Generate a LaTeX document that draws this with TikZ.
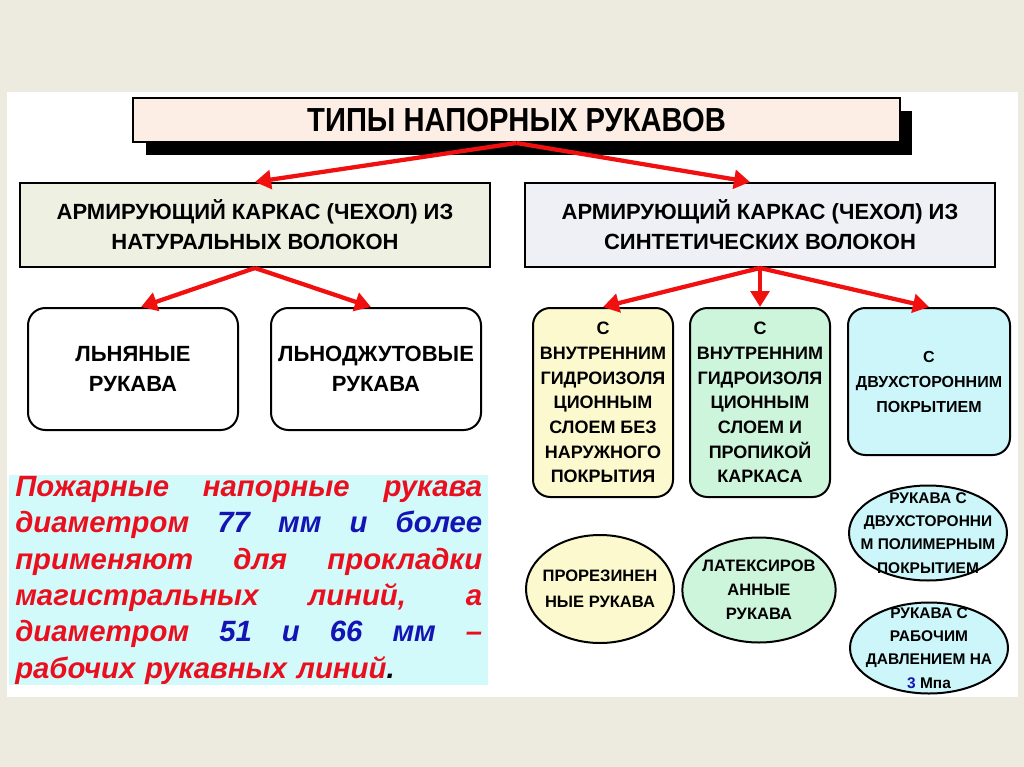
\documentclass[tikz,border=0pt]{standalone}
\usepackage{fontspec}
\setmainfont{Liberation Sans}
\usetikzlibrary{arrows.meta,shapes.geometric,calc}
\definecolor{bgc}{HTML}{EDEBDF}
\definecolor{titlef}{HTML}{FCEEE5}
\definecolor{lboxf}{HTML}{EEF0E1}
\definecolor{rboxf}{HTML}{EEF0F5}
\definecolor{yelf}{HTML}{FDF9CE}
\definecolor{grnf}{HTML}{CCF5DC}
\definecolor{cyaf}{HTML}{CCF6F9}
\definecolor{txtf}{HTML}{D2FAFA}
\definecolor{arrred}{HTML}{F01010}
\definecolor{txtred}{HTML}{EA0F1E}
\definecolor{txtblue}{HTML}{1414B4}
\newcommand{\fsz}[2]{\fontsize{#1}{#2}\selectfont\bfseries}
\newcommand{\bl}[1]{\textcolor{txtblue}{#1}}
\newcommand{\jl}[1]{\makebox[350.25pt][s]{\spaceskip=.28em plus 1fil\relax\xspaceskip=\spaceskip #1}}
\begin{document}
\begin{tikzpicture}[x=0.75pt,y=-0.75pt,
 box/.style={draw=black,line width=1.5pt,inner sep=0pt,align=center},
 rbox/.style={box,rounded corners=13pt},
 oval/.style={ellipse,draw=black,line width=1.5pt,inner sep=0pt},
 arr/.style={draw=arrred,line width=3.2pt,-{Triangle[length=12pt,width=14pt]}}]

\useasboundingbox (0,0) rectangle (1024,767);
\fill[bgc] (0,0) rectangle (1024,767);
\fill[white] (7,92) rectangle (1018,697);

% title with shadow
\fill[black] (146,111) rectangle (912,155);
\node[box,fill=titlef,minimum width=575.25pt,minimum height=33pt] (title) at (516.5,120)
  {\scalebox{0.875}[1]{\fsz{25}{30}ТИПЫ НАПОРНЫХ РУКАВОВ}};

% second level
\node[box,fill=lboxf,minimum width=352.5pt,minimum height=63pt,font=\fsz{16.5}{22.5}] (nat) at (255,225)
  {АРМИРУЮЩИЙ КАРКАС (ЧЕХОЛ) ИЗ\\НАТУРАЛЬНЫХ ВОЛОКОН};
\node[box,fill=rboxf,minimum width=352.5pt,minimum height=63pt,font=\fsz{16.5}{22.5}] (syn) at (760,225)
  {АРМИРУЮЩИЙ КАРКАС (ЧЕХОЛ) ИЗ\\СИНТЕТИЧЕСКИХ ВОЛОКОН};

% natural fibre children
\node[rbox,fill=white,minimum width=157.5pt,minimum height=91.5pt,font=\fsz{16.5}{22.5}] (flax) at (133,369)
  {ЛЬНЯНЫЕ\\РУКАВА};
\node[rbox,fill=white,minimum width=157.5pt,minimum height=91.5pt,font=\fsz{16.5}{22.5}] (jute) at (376,369)
  {ЛЬНОДЖУТОВЫЕ\\РУКАВА};

% synthetic fibre children
\node[rbox,fill=yelf,minimum width=105pt,minimum height=141.75pt,font=\fsz{13.5}{18.5}] (inner) at (603,402.5)
  {С\\ВНУТРЕННИМ\\ГИДРОИЗОЛЯ\\ЦИОННЫМ\\СЛОЕМ БЕЗ\\НАРУЖНОГО\\ПОКРЫТИЯ};
\node[rbox,fill=grnf,minimum width=105pt,minimum height=141.75pt,font=\fsz{13.5}{18.5}] (prop) at (760,402.5)
  {С\\ВНУТРЕННИМ\\ГИДРОИЗОЛЯ\\ЦИОННЫМ\\СЛОЕМ И\\ПРОПИКОЙ\\КАРКАСА};
\node[rbox,fill=cyaf,minimum width=121.5pt,minimum height=110.25pt,font=\fsz{12}{18.75}] (both) at (929,381.5)
  {С\\ДВУХСТОРОННИМ\\ПОКРЫТИЕМ};

% ellipses
\node[oval,fill=yelf,minimum width=111pt,minimum height=81pt,
  label={[font=\fsz{12.4}{19.5},align=center]center:{ПРОРЕЗИНЕН\\НЫЕ РУКАВА}}] (rub) at (600,589) {};
\node[oval,fill=grnf,minimum width=115pt,minimum height=78.75pt,
  label={[font=\fsz{12.4}{18},align=center]center:{ЛАТЕКСИРОВ\\АННЫЕ\\РУКАВА}}] (lat) at (759,590) {};
\node[oval,fill=cyaf,minimum width=118.5pt,minimum height=71.25pt,
  label={[font=\fsz{11.6}{17.5},align=center]center:{РУКАВА С\\ДВУХСТОРОННИ\\М ПОЛИМЕРНЫМ\\ПОКРЫТИЕМ}}] (poly) at (928,533) {};
\node[oval,fill=cyaf,minimum width=118.5pt,minimum height=68.25pt,
  label={[font=\fsz{11.6}{17.5},align=center]center:{РУКАВА С\\РАБОЧИМ\\ДАВЛЕНИЕМ НА\\\bl{3} Мпа}}] (press) at (929,648) {};

% note
\node[fill=txtf,anchor=north west,inner xsep=4.5pt,inner ysep=0pt,text width=350.25pt,minimum height=157.5pt,
  align=left,text=txtred,font=\fontsize{22}{27.3}\selectfont\bfseries\itshape] (note) at (9,475)
  {\jl{Пожарные напорные рукава}\\
   \jl{диаметром \bl{77} \bl{мм} \bl{и} \bl{более}}\\
   \jl{применяют для прокладки}\\
   \jl{магистральных линий, а}\\
   \jl{диаметром \bl{51} \bl{и} \bl{66} \bl{мм} –}\\
   рабочих рукавных линий\textcolor{black}{.}};

% arrows
\draw[arr] (title.south) -- (nat.north);
\draw[arr] (title.south) -- ($(syn.north)+(-10,0)$);
\draw[arr] (nat.south) -- ($(flax.north)+(8,0)$);
\draw[arr] (nat.south) -- ($(jute.north)+(-5,0)$);
\draw[arr] (syn.south) -- (inner.north);
\draw[arr] (syn.south) -- (prop.north);
\draw[arr] (syn.south) -- (both.north);
\end{tikzpicture}
\end{document}
